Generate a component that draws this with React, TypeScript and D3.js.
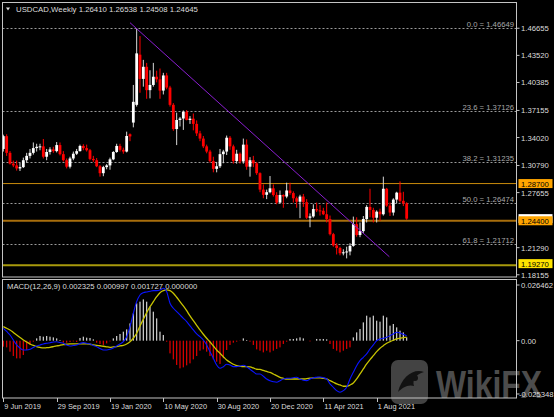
import React from 'react';
import * as d3 from 'd3';

const W = 554;
const H = 417;

// Weekly USDCAD candles, bar 0 = week of 9 Jun 2019
const opens = [1.3270,1.3418,1.3225,1.3100,1.3080,1.3045,1.3060,1.3140,1.3190,1.3225,1.3280,1.3295,1.3300,1.3180,1.3235,1.3265,1.3245,1.3315,1.3210,1.3140,
1.3065,1.3160,1.3215,1.3245,1.3305,1.3280,1.3255,1.3155,1.3140,1.3070,1.2990,1.3060,1.3080,1.3150,1.3235,1.3305,1.3260,1.3240,1.3440,1.3575,
1.3780,1.4360,1.4080,1.4220,1.3950,1.4010,1.4105,1.4075,1.3945,1.4120,1.3980,1.3780,1.3500,1.3605,1.3622,1.3700,1.3605,1.3620,1.3560,1.3450,
1.3390,1.3300,1.3240,1.3130,1.3040,1.3070,1.3210,1.3240,1.3400,1.3300,1.3130,1.3215,1.3125,1.3320,1.3065,1.3140,1.3104,1.2990,1.2800,1.2740,
1.2770,1.2815,1.2738,1.2650,1.2738,1.2720,1.2790,1.2760,1.2700,1.2660,1.2720,1.2655,1.2475,1.2490,1.2575,1.2560,1.2555,1.2515,1.2460,1.2285,
1.2155,1.2125,1.2065,1.2075,1.2085,1.2150,1.2400,1.2275,1.2320,1.2460,1.2600,1.2565,1.2475,1.2545,1.2515,1.2810,1.2615,1.2535,1.2685,1.2765,
1.2670,1.26410];
const highs = [1.3435,1.3440,1.3245,1.3135,1.3135,1.3110,1.3170,1.3225,1.3270,1.3345,1.3330,1.3330,1.3385,1.3270,1.3290,1.3295,1.3350,1.3345,1.3245,1.3160,
1.3180,1.3240,1.3270,1.3320,1.3325,1.3320,1.3270,1.3190,1.3165,1.3085,1.3075,1.3095,1.3170,1.3245,1.3330,1.3330,1.3285,1.3470,1.3450,1.4010,
1.4665,1.4575,1.4300,1.4265,1.4180,1.4265,1.4175,1.4200,1.4150,1.4150,1.4000,1.3800,1.3690,1.3640,1.3715,1.3720,1.3650,1.3680,1.3600,1.3480,
1.3420,1.3320,1.3260,1.3180,1.3120,1.3270,1.3260,1.3425,1.3420,1.3320,1.3260,1.3230,1.3390,1.3380,1.3175,1.3190,1.3120,1.3000,1.2860,1.2800,
1.2957,1.2860,1.2770,1.2790,1.2745,1.2880,1.2880,1.2780,1.2720,1.2740,1.2750,1.2690,1.2525,1.2630,1.2650,1.2620,1.2590,1.2650,1.2500,1.2300,
1.2180,1.2140,1.2110,1.2140,1.2180,1.2488,1.2480,1.2420,1.2495,1.2620,1.2810,1.2590,1.2560,1.2580,1.2950,1.2820,1.2650,1.2700,1.2775,1.2895,
1.2775,1.26538];
const lows = [1.3240,1.3190,1.3090,1.3060,1.3020,1.3015,1.3050,1.3110,1.3160,1.3205,1.3240,1.3255,1.3160,1.3140,1.3205,1.3225,1.3230,1.3195,1.3125,1.3045,
1.3045,1.3140,1.3200,1.3240,1.3255,1.3240,1.3140,1.3120,1.3060,1.2950,1.2955,1.3035,1.3030,1.3140,1.3225,1.3240,1.3215,1.3230,1.3360,1.3520,
1.3760,1.3920,1.3990,1.3850,1.3855,1.3990,1.4040,1.3850,1.3900,1.3960,1.3760,1.3480,1.3315,1.3530,1.3490,1.3600,1.3560,1.3485,1.3420,1.3360,
1.3280,1.3220,1.3110,1.3000,1.3000,1.3050,1.3105,1.3200,1.3260,1.3100,1.3100,1.3100,1.3100,1.3030,1.2950,1.3060,1.2970,1.2770,1.2700,1.2690,
1.2757,1.2720,1.2630,1.2640,1.2590,1.2700,1.2740,1.2650,1.2590,1.2470,1.2600,1.2460,1.2365,1.2475,1.2540,1.2500,1.2505,1.2420,1.2270,1.2140,
1.2050,1.2040,1.2040,1.2005,1.2040,1.2140,1.2255,1.2250,1.2300,1.2420,1.2480,1.2420,1.2420,1.2440,1.2500,1.2600,1.2495,1.2500,1.2640,1.2650,
1.2610,1.24508];
const closes = [1.3418,1.3225,1.3100,1.3080,1.3045,1.3060,1.3140,1.3190,1.3225,1.3280,1.3295,1.3300,1.3180,1.3235,1.3265,1.3245,1.3315,1.3210,1.3140,1.3065,
1.3160,1.3215,1.3245,1.3305,1.3280,1.3255,1.3155,1.3140,1.3070,1.2990,1.3060,1.3080,1.3150,1.3235,1.3305,1.3260,1.3240,1.3420,1.3415,1.3815,
1.4375,1.4080,1.4220,1.3950,1.4010,1.4105,1.4075,1.3945,1.4120,1.3980,1.3780,1.3500,1.3605,1.3622,1.3700,1.3605,1.3620,1.3560,1.3450,1.3390,
1.3300,1.3240,1.3130,1.3040,1.3070,1.3210,1.3240,1.3400,1.3300,1.3130,1.3215,1.3125,1.3320,1.3065,1.3140,1.3104,1.2990,1.2800,1.2740,1.2770,
1.2815,1.2738,1.2650,1.2738,1.2720,1.2790,1.2760,1.2700,1.2660,1.2720,1.2655,1.2475,1.2490,1.2575,1.2560,1.2555,1.2515,1.2460,1.2285,1.2155,
1.2125,1.2065,1.2075,1.2085,1.2150,1.2400,1.2275,1.2320,1.2460,1.2600,1.2565,1.2475,1.2545,1.2515,1.2810,1.2615,1.2535,1.2685,1.2765,1.2670,
1.2641,1.24645];

// MACD(12,26,9) panel values
const macdMain = [0.00589,0.00437,0.00271,0.00033,-0.00204,-0.00347,-0.00442,-0.00442,-0.00409,-0.00323,-0.00252,-0.00204,-0.00157,-0.00124,-0.00095,-0.00062,-0.00048,-0.00086,-0.00124,-0.00204,
-0.00252,-0.00228,-0.00204,-0.00133,-0.00095,-0.00124,-0.00157,-0.00228,-0.00285,-0.00371,-0.00442,-0.00442,-0.00409,-0.00347,-0.00252,-0.00157,-0.00048,0.00190,0.00665,0.01302,
0.01854,0.02172,0.02282,0.02315,0.02348,0.02377,0.02377,0.02410,0.02491,0.02329,0.01778,0.01540,0.01378,0.01222,0.01065,0.00903,0.00699,0.00509,0.00318,0.00190,
0.00033,-0.00204,-0.00523,-0.00837,-0.01155,-0.01312,-0.01236,-0.01122,-0.01155,-0.01236,-0.01236,-0.01203,-0.01169,-0.01236,-0.01359,-0.01474,-0.01583,-0.01583,-0.01692,-0.01821,
-0.01901,-0.01949,-0.01977,-0.01901,-0.01821,-0.01787,-0.01787,-0.01759,-0.01740,-0.01821,-0.01882,-0.01901,-0.01821,-0.01759,-0.01740,-0.01725,-0.01759,-0.01821,-0.02058,-0.02215,
-0.02377,-0.02453,-0.02377,-0.02215,-0.01821,-0.01502,-0.01188,-0.00951,-0.00789,-0.00632,-0.00395,-0.00204,0.00000,0.00081,0.00114,0.00162,0.00238,0.00318,0.00399,0.00366,
0.00300,0.00233];
const macdSignal = [0.00665,0.00589,0.00509,0.00390,0.00271,0.00152,0.00033,-0.00062,-0.00157,-0.00228,-0.00285,-0.00323,-0.00347,-0.00333,-0.00314,-0.00285,-0.00252,-0.00219,-0.00190,-0.00171,
-0.00157,-0.00157,-0.00157,-0.00157,-0.00157,-0.00157,-0.00171,-0.00195,-0.00219,-0.00242,-0.00266,-0.00290,-0.00314,-0.00299,-0.00285,-0.00252,-0.00219,-0.00157,-0.00048,0.00114,
0.00352,0.00699,0.01017,0.01331,0.01616,0.01854,0.02091,0.02282,0.02377,0.02410,0.02377,0.02253,0.02063,0.01854,0.01649,0.01426,0.01174,0.00951,0.00732,0.00509,
0.00304,0.00114,-0.00062,-0.00252,-0.00442,-0.00599,-0.00761,-0.00917,-0.01027,-0.01122,-0.01188,-0.01217,-0.01236,-0.01236,-0.01250,-0.01298,-0.01359,-0.01369,-0.01416,-0.01464,
-0.01512,-0.01583,-0.01664,-0.01740,-0.01787,-0.01821,-0.01821,-0.01821,-0.01821,-0.01821,-0.01821,-0.01806,-0.01787,-0.01773,-0.01773,-0.01773,-0.01787,-0.01821,-0.01901,-0.01977,
-0.02058,-0.02106,-0.02167,-0.02167,-0.02106,-0.02011,-0.01821,-0.01583,-0.01345,-0.01108,-0.00903,-0.00713,-0.00523,-0.00361,-0.00238,-0.00124,-0.00048,0.00019,0.00081,0.00114,
0.00143,0.00173];
const macdHist = [-0.00285,-0.00318,-0.00523,-0.00727,-0.00841,-0.00841,-0.00680,-0.00442,-0.00204,-0.00048,0.00109,0.00223,0.00190,0.00223,0.00190,0.00157,0.00109,0.00033,-0.00095,-0.00095,
-0.00062,-0.00033,-0.00062,0.00128,0.00190,0.00143,0.00128,0.00062,-0.00095,-0.00157,-0.00204,-0.00128,-0.00033,0.00109,0.00223,0.00318,0.00428,0.00537,0.00822,0.01297,
0.01772,0.01853,0.01962,0.01853,0.01615,0.01378,0.01059,0.00428,0.00271,-0.00048,-0.00603,-0.00888,-0.01154,-0.01316,-0.01268,-0.01173,-0.01078,-0.00888,-0.00727,-0.00475,
-0.00413,-0.00523,-0.00727,-0.00888,-0.00998,-0.01107,-0.00841,-0.00442,-0.00204,-0.00095,-0.00048,-0.00014,0.00109,0.00033,-0.00048,-0.00204,-0.00413,-0.00475,-0.00556,-0.00475,
-0.00556,-0.00475,-0.00394,-0.00318,-0.00157,-0.00048,0.00081,0.00081,0.00109,0.00157,0.00109,0.00000,-0.00033,0.00000,0.00081,0.00081,0.00081,0.00062,-0.00157,-0.00394,
-0.00475,-0.00556,-0.00475,-0.00394,-0.00318,0.00157,0.00394,0.00556,0.00869,0.01188,0.01107,0.01188,0.00950,0.00903,0.01188,0.01107,0.00713,0.00793,0.00632,0.00475,
0.00394,0.00157];

const dateLabels = ['9 Jun 2019','29 Sep 2019','19 Jan 2020','10 May 2020','30 Aug 2020','20 Dec 2020','11 Apr 2021','1 Aug 2021'];
const dateIdx = [0,16,32,48,64,80,96,112];
const priceTicks = [1.46655,1.43520,1.40385,1.37155,1.34020,1.30790,1.27655,1.21290,1.18155];
const macdTicks = [0.026462, 0, -0.025348];
const macdTickLabels = ['0.026462','0.00','-0.025348'];
const fibRatios = ['0.0','23.6','38.2','50.0','61.8'];
const fibPrices = [1.46649,1.37126,1.31235,1.26474,1.21712];
const levelPrices = [1.287, 1.244, 1.1927];
const levelLabels = ['1.28700','1.24400','1.19270'];
const levelLine = ['#c88a0c','#a86e0c','#a89a0c'];
const levelLineW = [1, 2, 2];
const levelBox = ['#ffa500','#ffa500','#ffe400'];
const trendIdx = [38, 115.8];
const trendPrice = [1.4730, 1.2024];
const lastClose = 1.24645;

const FONT = '"Liberation Sans", Arial, sans-serif';
const TXT = '#dcdcdc';

export default function App() {
  const n = closes.length;
  const x = d3.scaleLinear().domain([0, n - 1]).range([3.33, 406.67]);
  const y = d3.scaleLinear().domain([1.17898, 1.49632]).range([277, 2.5]);
  const ym = d3.scaleLinear().domain([-0.02725, 0.029314]).range([398, 279]);
  const idx = d3.range(n);
  const lineM = d3.line<number>().x((i) => x(i)).y((i) => ym(macdMain[i])).curve(d3.curveMonotoneX);
  const lineS = d3.line<number>().x((i) => x(i)).y((i) => ym(macdSignal[i])).curve(d3.curveMonotoneX);
  const left = 2.5, right = 516.5;

  return (
    <svg width={W} height={H} style={{ position: 'fixed', left: 0, top: 0, display: 'block' }} fontFamily={FONT}>
      <rect x={0} y={0} width={W} height={H} fill="#000" />
      <defs>
        <clipPath id="mainClip"><rect x={left} y={2.5} width={right - left} height={274.5} /></clipPath>
        <clipPath id="macdClip"><rect x={left} y={279.5} width={right - left} height={118.5} /></clipPath>
      </defs>

      {/* Fibonacci levels */}
      {fibPrices.map((p, k) => (
        <g key={'fib' + k}>
          <line x1={left} x2={right} y1={Math.round(y(p)) + 0.5} y2={Math.round(y(p)) + 0.5} stroke="#9a9a9a" strokeDasharray="2,2" />
          <text x={514} y={Math.round(y(p)) - 1} fontSize={7.7} fill="#a8a8a8" textAnchor="end">{fibRatios[k] + ' = ' + p.toFixed(5)}</text>
        </g>
      ))}

      {/* horizontal levels */}
      {levelPrices.map((p, k) => (
        <line key={'lv' + k} x1={left} x2={right} y1={y(p)} y2={y(p)} stroke={levelLine[k]} strokeWidth={levelLineW[k]} />
      ))}

      {/* candles */}
      <g clipPath="url(#mainClip)">
        {idx.map((i) => {
          const o = opens[i], c = closes[i];
          const bull = c >= o;
          const col = bull ? '#ffffff' : '#ff0000';
          const top = y(Math.max(o, c));
          const bot = y(Math.min(o, c));
          return (
            <g key={'c' + i}>
              <line x1={x(i)} x2={x(i)} y1={y(highs[i])} y2={y(lows[i])} stroke={bull ? '#d8d8d8' : '#ff0000'} strokeWidth={1} />
              <rect x={x(i) - 1.4} y={top} width={2.8} height={Math.max(1, bot - top)} fill={col} />
            </g>
          );
        })}
        <line x1={x(trendIdx[0])} y1={y(trendPrice[0])} x2={x(trendIdx[1])} y2={y(trendPrice[1])} stroke="#8a1ed0" strokeWidth={1} />
      </g>

      {/* MACD */}
      <g clipPath="url(#macdClip)">
        {idx.map((i) => (
          <rect key={'h' + i} x={x(i) - 0.6} width={1.2}
            y={Math.min(ym(0), ym(macdHist[i]))} height={Math.abs(ym(macdHist[i]) - ym(0))}
            fill={macdHist[i] >= 0 ? '#d4d4d4' : '#e00000'} />
        ))}
        <path d={lineS(idx) || ''} fill="none" stroke="#c8c400" strokeWidth={1.3} />
        <path d={lineM(idx) || ''} fill="none" stroke="#0a14ff" strokeWidth={1.1} />
      </g>

      {/* watermark (under the axis texts) */}
      <g opacity={0.55}>
        <rect x={391} y={360} width={37} height={44} rx={7} fill="#7a7a7a" />
        <path d="M398,392 C402,376 414,368 424,372 C416,374 412,380 414,386 C408,384 402,388 398,392 Z" fill="#222" />
        <circle cx={415} cy={378} r={3} fill="#222" />
        <text x={436} y={398} fontSize={38} fontWeight="bold" fill="#8a8a8a" textLength={106} lengthAdjust="spacingAndGlyphs">WikiFX</text>
      </g>

      {/* frames */}
      <rect x={left} y={2.5} width={right - left} height={274.5} fill="none" stroke="#c4c4c4" />
      <rect x={left} y={279.5} width={right - left} height={118.5} fill="none" stroke="#c4c4c4" />

      {/* title */}
      <polygon points="6,7.5 10,7.5 8,10.5" fill="#e0e0e0" />
      <text x={16} y={11.5} fontSize={7.8} fill={TXT}>USDCAD,Weekly  1.26410 1.26538 1.24508 1.24645</text>
      <text x={7} y={288.5} fontSize={7.7} fill={TXT}>MACD(12,26,9) 0.002325 0.000997 0.001727 0.000000</text>

      {/* price axis */}
      {priceTicks.map((p, k) => (
        <g key={'pt' + k}>
          <line x1={right} x2={right + 3} y1={y(p)} y2={y(p)} stroke="#c4c4c4" />
          <text x={521} y={y(p) + 3} fontSize={7.7} fill={TXT}>{p.toFixed(5)}</text>
        </g>
      ))}
      {/* current price marker hidden under level box */}
      <rect x={518.5} y={y(lastClose) - 4.5} width={34} height={9} fill="#ffffff" />
      {levelPrices.map((p, k) => (
        <g key={'lb' + k}>
          <rect x={518.5} y={y(p) - 4.5 - (k === 2 ? 1.5 : 0)} width={34} height={9} fill={levelBox[k]} />
          <text x={521} y={y(p) + 3 - (k === 2 ? 1.5 : 0)} fontSize={7.7} fill="#000">{levelLabels[k]}</text>
        </g>
      ))}

      {/* MACD axis */}
      {macdTicks.map((v, k) => (
        <g key={'mt' + k}>
          <line x1={right} x2={right + 3} y1={ym(v)} y2={ym(v)} stroke="#c4c4c4" />
          <text x={k === 2 ? 519 : 521} y={ym(v) + 3} fontSize={7.7} fill={TXT}>{macdTickLabels[k]}</text>
        </g>
      ))}

      {/* time axis */}
      {dateIdx.map((di, k) => (
        <g key={'dt' + k}>
          <line x1={Math.round(x(di)) + 0.5} x2={Math.round(x(di)) + 0.5} y1={398} y2={402} stroke="#c4c4c4" />
          <text x={x(di) + 1} y={408.5} fontSize={7.4} fill={TXT}>{dateLabels[k]}</text>
        </g>
      ))}
    </svg>
  );
}
